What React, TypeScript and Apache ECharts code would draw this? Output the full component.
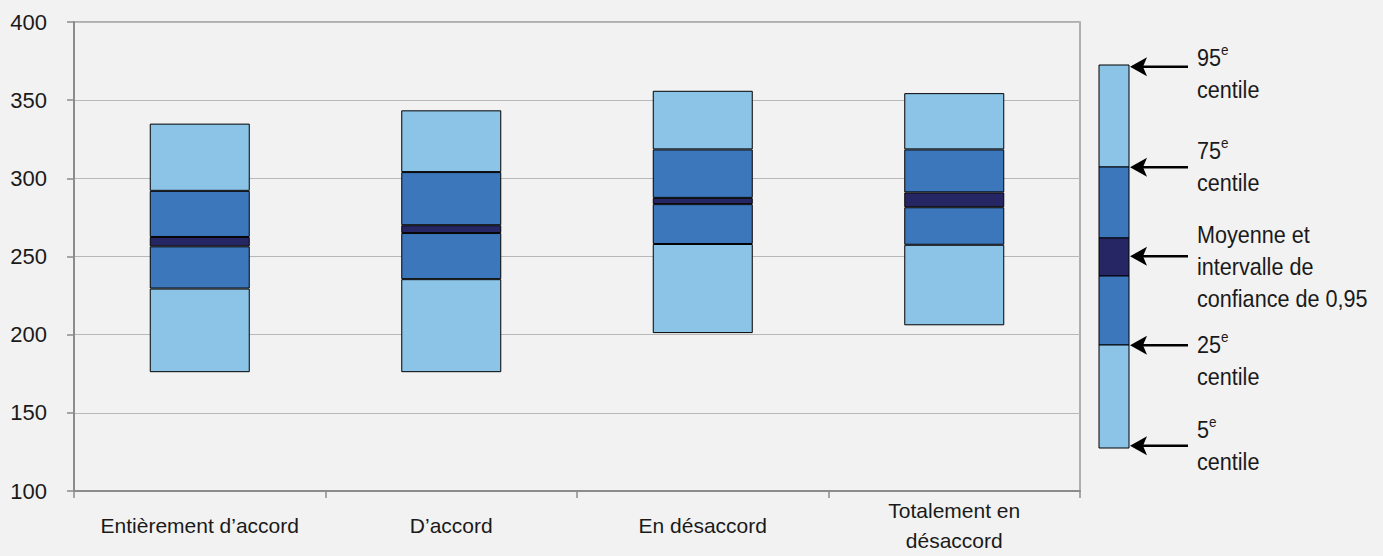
import React, { useEffect, useRef } from "react";
import * as echarts from "echarts";

const categories = ["Entièrement d’accord", "D’accord", "En désaccord", "Totalement en désaccord"];
const p5 = [176, 176, 201, 206];
const p25 = [229.5, 235.5, 258, 257.5];
const ciLow = [256.5, 265, 283.5, 281.5];
const ciHigh = [262.5, 270, 287.5, 291];
const p75 = [292, 304, 318.5, 318.5];
const p95 = [335, 343.5, 356, 354.5];
const yTicks = { min: 100, max: 400, interval: 50 };

const FONT = "'Liberation Sans', Arial, sans-serif";
const LIGHT = "#8BC4E7";
const MID = "#3C77BC";
const DARK = "#272664";
const TEXT = "#1a1a1a";

const diff = (a: number[], b: number[]) => a.map((v, i) => +(v - b[i]).toFixed(2));

const wrapLabel = (v: string) => {
  if (v.length <= 20) return v;
  const idx = v.lastIndexOf(" ", 14);
  return idx > 0 ? v.slice(0, idx) + "\n" + v.slice(idx + 1) : v;
};

export default function App() {
  const ref = useRef<HTMLDivElement>(null);
  useEffect(() => {
    if (!ref.current) return;
    const chart = echarts.init(ref.current, null, { renderer: "svg" });
    const seg = (name: string, data: number[], color: string) => ({
      name,
      type: "bar",
      stack: "box",
      barWidth: 100,
      data,
      silent: true,
      itemStyle: { color, borderColor: "#000", borderWidth: 1 },
      emphasis: { disabled: true },
    });

    const legX = 1099;
    const legW = 30;
    const legBands = [
      [65, 167, LIGHT],
      [167, 238, MID],
      [238, 276, DARK],
      [276, 345, MID],
      [345, 448, LIGHT],
    ] as const;
    const arrowYs = [66.7, 167.3, 256.3, 345.3, 445.7];
    const graphics: any[] = [];
    legBands.forEach(([y0, y1, c]) => {
      graphics.push({
        type: "rect",
        shape: { x: legX, y: y0, width: legW, height: y1 - y0 },
        style: { fill: c, stroke: "#000", lineWidth: 1 },
        silent: true,
      });
    });
    arrowYs.forEach((y) => {
      graphics.push({
        type: "line",
        shape: { x1: 1141, y1: y, x2: 1188, y2: y },
        style: { stroke: "#000", lineWidth: 2.5 },
        silent: true,
      });
      graphics.push({
        type: "polygon",
        shape: { points: [[1130, y], [1147, y - 9.5], [1143, y], [1147, y + 9.5]] },
        style: { fill: "#000" },
        silent: true,
      });
    });
    const rich = {
      n: { fontSize: 24, fontFamily: FONT, lineHeight: 32, fill: TEXT },
      s: { fontSize: 15, fontFamily: FONT, lineHeight: 22, verticalAlign: "top", fill: TEXT },
    };
    const labels: [string, number][] = [
      ["{n|95}{s|e}\n{n|centile}", 42],
      ["{n|75}{s|e}\n{n|centile}", 135],
      ["{n|Moyenne et}\n{n|intervalle de}\n{n|confiance de 0,95}", 219],
      ["{n|25}{s|e}\n{n|centile}", 329],
      ["{n|5}{s|e}\n{n|centile}", 414],
    ];
    labels.forEach(([t, y]) => {
      graphics.push({
        type: "text",
        x: 1197,
        y,
        scaleX: 0.9,
        style: { text: t, rich, fill: TEXT, fontSize: 24, fontFamily: FONT, verticalAlign: "top", align: "left" },
        silent: true,
      });
    });

    chart.setOption({
      animation: false,
      backgroundColor: "#f2f2f2",
      textStyle: { fontFamily: FONT },
      grid: {
        left: 74,
        right: 303,
        top: 22,
        bottom: 65,
        show: true,
        borderColor: "#999",
        borderWidth: 1.5,
        backgroundColor: "transparent",
        outerBoundsMode: "none",
      },
      xAxis: {
        type: "category",
        data: categories,
        boundaryGap: true,
        axisLine: { show: true, lineStyle: { color: "#8c8c8c", width: 2 } },
        axisTick: { show: true, alignWithLabel: false, length: 7, lineStyle: { color: "#8c8c8c", width: 1.5 } },
        axisLabel: {
          interval: 0,
          fontSize: 21,
          fontFamily: FONT,
          color: TEXT,
          margin: 34,
          verticalAlign: "middle",
          lineHeight: 30,
          formatter: wrapLabel,
        },
        splitLine: { show: false },
      },
      yAxis: {
        type: "value",
        min: yTicks.min,
        max: yTicks.max,
        interval: yTicks.interval,
        axisLine: { show: true, lineStyle: { color: "#8c8c8c", width: 2 } },
        axisTick: { show: true, length: 7, lineStyle: { color: "#8c8c8c", width: 1.5 } },
        axisLabel: { fontSize: 22, fontFamily: FONT, color: TEXT, margin: 27 },
        splitLine: { show: true, lineStyle: { color: "#b8b8b8", width: 1.2 } },
      },
      series: [
        {
          name: "base",
          type: "bar",
          stack: "box",
          barWidth: 100,
          data: p5,
          silent: true,
          itemStyle: { color: "transparent", borderWidth: 0 },
          emphasis: { disabled: true },
        },
        seg("5e–25e centile", diff(p25, p5), LIGHT),
        seg("25e centile–IC bas", diff(ciLow, p25), MID),
        seg("Moyenne IC 0,95", diff(ciHigh, ciLow), DARK),
        seg("IC haut–75e centile", diff(p75, ciHigh), MID),
        seg("75e–95e centile", diff(p95, p75), LIGHT),
      ],
      graphic: graphics,
    });
    return () => chart.dispose();
  }, []);
  return <div ref={ref} style={{ position: "fixed", left: 0, top: 0, width: 1383, height: 556 }} />;
}
